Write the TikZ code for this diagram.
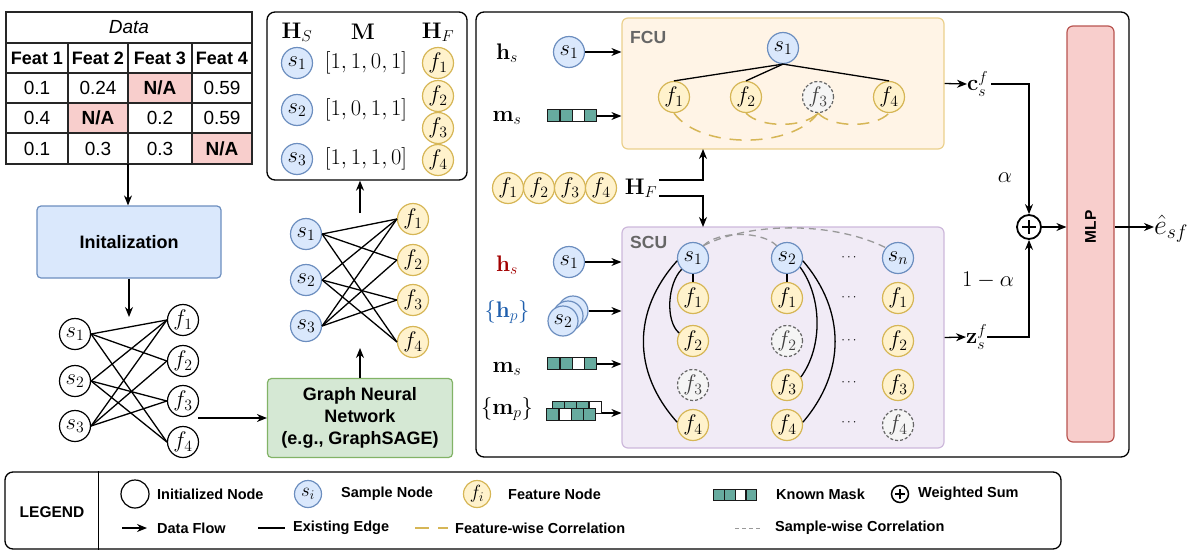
\RequirePackage{fix-cm}
\documentclass[tikz,border=0pt]{standalone}
\usepackage{amsmath}
\usepackage[no-math]{fontspec}
\newfontfamily\arial{Liberation Sans}
\usetikzlibrary{arrows.meta,calc}
\definecolor{bF}{HTML}{DAE8FC}\definecolor{bD}{HTML}{6C8EBF}
\definecolor{yF}{HTML}{FFF2CC}\definecolor{yD}{HTML}{D6B656}
\definecolor{gF}{HTML}{D5E8D4}\definecolor{gD}{HTML}{82B366}
\definecolor{rF}{HTML}{F8CECC}\definecolor{rD}{HTML}{B85450}
\definecolor{fcuF}{HTML}{FFF4E6}\definecolor{fcuD}{HTML}{EBD08C}
\definecolor{scuF}{HTML}{F1EBF6}\definecolor{scuD}{HTML}{CDB8DB}
\definecolor{mkT}{HTML}{67AB9F}\definecolor{mkD}{HTML}{1A1A1A}
\definecolor{mF}{HTML}{F5F5F5}\definecolor{mD}{HTML}{666666}
\definecolor{uG}{HTML}{666666}\definecolor{sG}{HTML}{999999}
\definecolor{hred}{HTML}{A20000}\definecolor{hblue}{HTML}{1F5FAD}
\newcommand{\mymask}[5]{%
  \node[draw=none, inner sep=0pt, minimum width={4*#3}, minimum height=#4] (#1) at (#2) {};
  \foreach \cc [count=\i] in {#5} {\draw[draw=mkD, line width=1.2pt, fill=\cc] ($(#1.north west)+({(\i-1)*#3},0)$) rectangle ++(#3,#4);}%
}
\begin{document}
\begin{tikzpicture}[x=1pt,y=-1pt,
  mth/.style={font=\fontsize{22.5}{26}\selectfont},
  cnode/.style={circle, line width=1.2pt, minimum size=31, inner sep=0pt, mth},
  snode/.style={cnode, draw=bD, fill=bF},
  fnode/.style={cnode, draw=yD, fill=yF},
  mnode/.style={cnode, draw=mD, fill=mF, dash pattern=on 3pt off 2pt, text=black!75},
  inode/.style={cnode, draw=black, fill=white},
  ln/.style={line width=1.3pt},
  arr/.style={line width=1.3pt, -{Stealth[length=10pt,width=8pt]}},
  tcell/.style={draw=black!85, line width=1.2pt, minimum height=30, inner sep=0pt, font=\arial\fontsize{19}{22}\selectfont},
  hcell/.style={tcell, font=\arial\bfseries\fontsize{18}{22}\selectfont},
  nacell/.style={tcell, fill=rF, font=\arial\bfseries\fontsize{19}{22}\selectfont},
  pbox/.style={rounded corners=4pt, line width=1.2pt, inner sep=0pt, align=center, font=\arial\bfseries\fontsize{18}{22}\selectfont},
  lbl/.style={inner sep=0pt, mth},
  lgt/.style={anchor=west, inner sep=0pt, font=\arial\bfseries\fontsize{14.5}{17}\selectfont},
  fdash/.style={draw=yD, line width=1.5pt, dash pattern=on 12pt off 9pt},
  sdash/.style={draw=sG, line width=1.3pt, dash pattern=on 7pt off 5pt},
  ubox/.style={line width=1.2pt, rounded corners=6pt, inner sep=0pt},
  ulabel/.style={anchor=west, inner sep=0pt, text=uG, font=\arial\bfseries\fontsize{17.5}{20}\selectfont}
]
\useasboundingbox (0,0) rectangle (1188,552);

% ---------------- Data table ----------------
\node[tcell, minimum width=246, minimum height=31, font=\arial\itshape\fontsize{19}{22}\selectfont] (tdata) at (129,27.5) {Data};
\node[hcell, minimum width=62] (th1) at (37,58) {Feat 1};
\node[hcell, minimum width=60] (th2) at (98,58) {Feat 2};
\node[hcell, minimum width=64] (th3) at (160,58) {Feat 3};
\node[hcell, minimum width=60] (th4) at (222,58) {Feat 4};
\node[tcell, minimum width=62] (t11) at (37,88) {0.1};
\node[tcell, minimum width=60] (t12) at (98,88) {0.24};
\node[nacell, minimum width=64] (t13) at (160,88) {N/A};
\node[tcell, minimum width=60] (t14) at (222,88) {0.59};
\node[tcell, minimum width=62] (t21) at (37,118) {0.4};
\node[nacell, minimum width=60] (t22) at (98,118) {N/A};
\node[tcell, minimum width=64] (t23) at (160,118) {0.2};
\node[tcell, minimum width=60] (t24) at (222,118) {0.59};
\node[tcell, minimum width=62, minimum height=31] (t31) at (37,148.5) {0.1};
\node[tcell, minimum width=60, minimum height=31] (t32) at (98,148.5) {0.3};
\node[tcell, minimum width=64, minimum height=31] (t33) at (160,148.5) {0.3};
\node[nacell, minimum width=60, minimum height=31] (t34) at (222,148.5) {N/A};

% ---------------- Initialization ----------------
\node[pbox, fill=bF, draw=bD, minimum width=184, minimum height=72] (init) at (129,242) {Initalization};
\coordinate (tbot) at (128,164);
\draw[arr] (tbot) -- (tbot |- init.north);
\coordinate (lgin) at (129,317);
\draw[arr] (init.south) -- (lgin);

% ---------------- left bipartite graph ----------------
\node[inode] (ls1) at (75,334) {$s_1$};
\node[inode] (ls2) at (75,381) {$s_2$};
\node[inode] (ls3) at (75,426) {$s_3$};
\node[inode] (lf1) at (183,320) {$f_1$};
\node[inode] (lf2) at (183,361) {$f_2$};
\node[inode] (lf3) at (183,401) {$f_3$};
\node[inode] (lf4) at (183,442) {$f_4$};
\foreach \a/\b in {1/1,1/2,1/4,2/1,2/3,2/4,3/1,3/2,3/3}
  \draw[ln] (ls\a.east) -- (lf\b.west);

% ---------------- GNN ----------------
\node[pbox, fill=gF, draw=gD, minimum width=185, minimum height=79] (gnn) at (360,418) {Graph Neural\\Network\\(e.g., GraphSAGE)};
\coordinate (lgout) at (198,418);
\draw[arr] (lgout) -- (gnn.west);
\coordinate (mgin) at (360,348);
\draw[arr] (gnn.north) -- (mgin);

% ---------------- middle graph ----------------
\node[snode] (ms1) at (306,234) {$s_1$};
\node[snode] (ms2) at (306,280) {$s_2$};
\node[snode] (ms3) at (306,326) {$s_3$};
\node[fnode] (mf1) at (413,219) {$f_1$};
\node[fnode] (mf2) at (413,260) {$f_2$};
\node[fnode] (mf3) at (413,300) {$f_3$};
\node[fnode] (mf4) at (413,342) {$f_4$};
\foreach \a/\b in {1/1,1/2,1/4,2/1,2/3,2/4,3/1,3/2,3/3}
  \draw[ln] (ms\a.east) -- (mf\b.west);

% ---------------- H_S / M / H_F box ----------------
\node[draw, line width=1.3pt, rounded corners=8pt, minimum width=200, minimum height=168, inner sep=0pt] (hsbox) at (367,96) {};
\coordinate (mgout) at (360,213);
\draw[arr] (mgout) -- (mgout |- hsbox.south);
\node[lbl] (hsH) at (297,32) {$\mathbf{H}_S$};
\node[lbl] (hsM) at (363,32) {$\mathbf{M}$};
\node[lbl] (hsF) at (438,32) {$\mathbf{H}_F$};
\node[snode] (hs1) at (297,63) {$s_1$};
\node[snode] (hs2) at (297,110) {$s_2$};
\node[snode] (hs3) at (297,159) {$s_3$};
\node[lbl] (hv1) at (366,63) {$[1,1,0,1]$};
\node[lbl] (hv2) at (366,110) {$[1,0,1,1]$};
\node[lbl] (hv3) at (366,159) {$[1,1,1,0]$};
\node[fnode] (hf1) at (438,63) {$f_1$};
\node[fnode] (hf2) at (438,96) {$f_2$};
\node[fnode] (hf3) at (438,128) {$f_3$};
\node[fnode] (hf4) at (438,160) {$f_4$};

% ---------------- right panel ----------------
\node[draw, line width=1.3pt, rounded corners=8pt, minimum width=653, minimum height=445, inner sep=0pt] (rbox) at (802.5,234.5) {};
\node[ubox, fill=fcuF, draw=fcuD, minimum width=322, minimum height=131] (fcu) at (783,83.5) {};
\node[ubox, fill=scuF, draw=scuD, minimum width=322, minimum height=221] (scu) at (783,337.5) {};
\node[ulabel] (fcut) at (630,37) {FCU};
\node[ulabel] (scut) at (630,242) {SCU};

% FCU content
\node[snode] (fs1) at (783,48) {$s_1$};
\node[fnode] (ff1) at (674,97) {$f_1$};
\node[fnode] (ff2) at (746,97) {$f_2$};
\node[mnode] (ff3) at (818,97) {$f_3$};
\node[fnode] (ff4) at (889,97) {$f_4$};
\foreach \b in {1,2,4} \draw[ln] (fs1.south) -- (ff\b.north);
\draw[fdash] (ff1.south) .. controls +(26,36) and +(-26,36) .. (ff3.south);
\draw[fdash] (ff2.south) .. controls +(14,15) and +(-14,15) .. (ff3.south);
\draw[fdash] (ff3.south) .. controls +(14,15) and +(-14,15) .. (ff4.south);

% FCU inputs
\node[lbl] (lh1) at (507,53) {$\mathbf{h}_s$};
\node[snode] (in1) at (569,52) {$s_1$};
\draw[arr] (in1.east) -- (in1.east -| fcu.west);
\node[lbl] (lm1) at (507,118) {$\mathbf{m}_s$};
\mymask{mk1}{572.5,116}{12.25}{12}{mkT,mkT,white,mkT}
\draw[arr] (mk1.east) -- (mk1.east -| fcu.west);

% H_F row
\node[fnode] (hr1) at (508,188) {$f_1$};
\node[fnode] (hr2) at (539,188) {$f_2$};
\node[fnode] (hr3) at (570,188) {$f_3$};
\node[fnode] (hr4) at (601,188) {$f_4$};
\node[lbl] (hrl) at (641,188) {$\mathbf{H}_F$};
\coordinate (hfa) at (659,180);
\coordinate (hfb) at (659,196);
\coordinate (fcuin) at (703,149);
\coordinate (scuin) at (703,227);
\draw[arr] (hfa) -| (fcuin);
\draw[arr] (hfb) -| (scuin);

% SCU content
\node[snode] (a1) at (693,258) {$s_1$};
\node[fnode] (a2) at (693,298) {$f_1$};
\node[fnode] (a3) at (693,341) {$f_2$};
\node[mnode] (a4) at (693,385) {$f_3$};
\node[fnode] (a5) at (693,425) {$f_4$};
\node[snode] (b1) at (787,258) {$s_2$};
\node[fnode] (b2) at (787,298) {$f_1$};
\node[mnode] (b3) at (787,341) {$f_2$};
\node[fnode] (b4) at (787,385) {$f_3$};
\node[fnode] (b5) at (787,425) {$f_4$};
\node[snode] (c1) at (898,258) {$s_n$};
\node[fnode] (c2) at (898,298) {$f_1$};
\node[fnode] (c3) at (898,341) {$f_2$};
\node[fnode] (c4) at (898,385) {$f_3$};
\node[mnode] (c5) at (898,425) {$f_4$};
\foreach \r/\yy in {1/258,2/298,3/341,4/383,5/423}
  \node[inner sep=0pt, font=\fontsize{13}{14}\selectfont] (dots\r) at (850,\yy) {$\cdots$};
\draw[ln] (a1.south) -- (a2.north);
\draw[ln] (b1.south) -- (b2.north);
\draw[ln] (a1.225) .. controls +(-14,14) and +(-14,-12) .. (a3.150);
\draw[ln] (a1.190) .. controls +(-45,50) and +(-45,-50) .. (a5.170);
\draw[ln] (b1.350) .. controls +(43,50) and +(43,-50) .. (b5.10);
\draw[ln] (b1.-35) .. controls +(22,30) and +(22,-30) .. (b4.30);
\draw[sdash] (a1.50) .. controls +(15,-15) and +(-15,-15) .. (b1.130);
\draw[sdash] (a1.50) .. controls +(50,-25) and +(-50,-25) .. (c1.140);

% SCU inputs
\node[lbl, text=hred] (lh2) at (507,265) {$\mathbf{h}_s$};
\node[snode] (in2) at (569,262) {$s_1$};
\draw[arr] (in2.east) -- (in2.east -| scu.west);
\node[lbl, text=hblue] (lhp) at (507,312) {$\{\mathbf{h}_p\}$};
\node[snode, minimum size=30] (hp3) at (573,311) {};
\node[snode, minimum size=30] (hp2) at (568,316) {};
\node[snode, minimum size=30] (hp1) at (563,321) {$s_2$};
\draw[arr] (hp3.east) -- (hp3.east -| scu.west);
\node[lbl] (lm2) at (507,369) {$\mathbf{m}_s$};
\mymask{mk2}{572.5,364}{12.25}{12}{mkT,mkT,white,mkT}
\draw[arr] (mk2.east) -- (mk2.east -| scu.west);
\node[lbl] (lmp) at (507,409) {$\{\mathbf{m}_p\}$};
\mymask{mk3}{577,408}{12.25}{12}{mkT,mkT,mkT,white}
\mymask{mk4}{571.5,415}{12.25}{12}{mkT,white,mkT,mkT}
\coordinate (mpo) at (602,413);
\draw[arr] (mpo) -- (mpo -| scu.west);

% outputs and weighted sum
\node[circle, draw, line width=1.8pt, minimum size=24, inner sep=0pt] (op) at (1029,227) {};
\draw[line width=1.8pt] ($(op)+(-7,0)$) -- ($(op)+(7,0)$) ($(op)+(0,-7)$) -- ($(op)+(0,7)$);
\node[lbl, anchor=west] (cs) at (967,84) {$\mathbf{c}_s^f$};
\draw[arr] (fcu.east) -- (cs.west);
\draw[arr] (cs.east) ++(3,0) -| (op.north);
\node[lbl, anchor=west] (zs) at (966,337) {$\mathbf{z}_s^f$};
\draw[arr] (scu.east) -- (zs.west);
\draw[arr] (zs.east) -| (op.south);
\node[lbl] (alf) at (1005,178) {$\alpha$};
\node[lbl] (oma) at (988,280) {$1-\alpha$};
\node[ubox, fill=rF, draw=rD, minimum width=47, minimum height=416] (mlp) at (1090.5,234) {};
\node[inner sep=0pt, rotate=90, font=\arial\bfseries\fontsize{15.5}{18}\selectfont] (mlpt) at (1090.5,227) {MLP};
\draw[arr] (op.east) -- (op.east -| mlp.west);
\node[inner sep=0pt, anchor=west, font=\fontsize{28}{31}\selectfont] (eh) at (1154,229) {$\hat{e}_{sf}$};
\draw[arr] (op -| mlp.east) -- (op -| eh.west);

% ---------------- legend ----------------
\node[draw, line width=1.3pt, rounded corners=8pt, minimum width=1056, minimum height=77, inner sep=0pt] (leg) at (533,510.5) {};
\draw[line width=1.3pt] ($(leg.north west)+(94,0)$) -- ($(leg.south west)+(94,0)$);
\node[inner sep=0pt, font=\arial\bfseries\fontsize{15.5}{18}\selectfont] (legt) at (52,512) {LEGEND};
\node[inode, minimum size=28] (lgi) at (135,494) {};
\node[lgt] (lgit) at (157,494) {Initialized Node};
\node[snode, minimum size=27, font=\fontsize{19}{21}\selectfont] (lgs) at (308,494) {$s_i$};
\node[lgt] (lgst) at (341,494) {Sample Node};
\node[fnode, minimum size=27, font=\fontsize{19}{21}\selectfont] (lgf) at (477,494) {$f_i$};
\node[lgt] (lgft) at (508,494) {Feature Node};
\mymask{lgm}{735.5,495.5}{10.75}{11}{mkT,mkT,white,mkT}
\node[lgt] (lgmt) at (776,494) {Known Mask};
\node[circle, draw, line width=1.5pt, minimum size=17, inner sep=0pt] (lgo) at (900,494) {};
\draw[line width=1.5pt] ($(lgo)+(-5,0)$) -- ($(lgo)+(5,0)$) ($(lgo)+(0,-5)$) -- ($(lgo)+(0,5)$);
\node[lgt] (lgot) at (918,494) {Weighted Sum};
\coordinate (la1) at (122,528); \coordinate (la2) at (147,528);
\draw[arr] (la1) -- (la2);
\node[lgt] (la3) at (157,528) {Data Flow};
\coordinate (le1) at (258,528); \coordinate (le2) at (285,528);
\draw[ln] (le1) -- (le2);
\node[lgt] (le3) at (293,528) {Existing Edge};
\coordinate (lc1) at (415,528); \coordinate (lc2) at (448,528);
\draw[fdash, dash pattern=on 14pt off 9pt] (lc1) -- (lc2);
\node[lgt] (lc3) at (455,528) {Feature-wise Correlation};
\coordinate (ls1x) at (735,528); \coordinate (ls2x) at (762,528);
\draw[sdash, line width=1pt, dash pattern=on 4pt off 3pt] (ls1x) -- (ls2x);
\node[lgt] (ls3x) at (775,528) {Sample-wise Correlation};
\end{tikzpicture}
\end{document}
